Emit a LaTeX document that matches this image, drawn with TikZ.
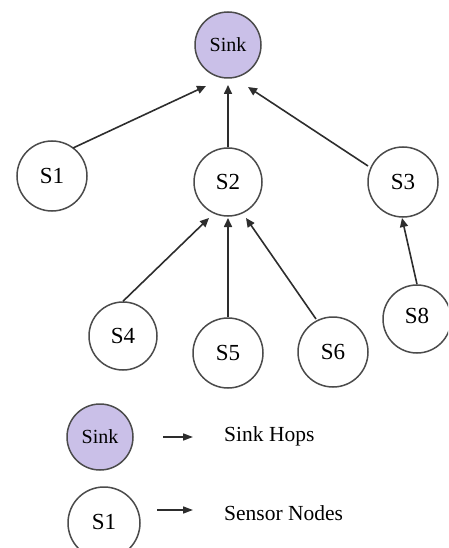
\documentclass[tikz,border=0pt]{standalone}
\usepackage{fontspec}
\setmainfont{Liberation Serif}
\usetikzlibrary{arrows.meta}
\definecolor{sinkfill}{RGB}{202,192,232}
\definecolor{edge}{RGB}{45,45,45}
\definecolor{rim}{RGB}{75,75,75}
\tikzset{
  sensor/.style={circle, draw=rim, line width=1.5pt, fill=white, minimum size=70pt, inner sep=0pt,
    font=\fontsize{23}{25}\selectfont},
  sinknode/.style={circle, draw=rim, line width=1.5pt, fill=sinkfill, minimum size=66pt, inner sep=0pt,
    font=\fontsize{20}{22}\selectfont},
  link/.style={draw=edge, line width=1.6pt, -{Triangle[length=9pt,width=8pt]}},
  legendtext/.style={anchor=west, inner sep=0pt, font=\fontsize{21.5}{24}\selectfont}
}
\begin{document}
\begin{tikzpicture}[x=1pt,y=-1pt]
\useasboundingbox (0,0) rectangle (448,548);
\clip (0,0) rectangle (448,548);
% tree
\node[sinknode] (sink) at (228,45) {Sink};
\node[sensor] (s1) at (52,176) {S1};
\node[sensor, minimum size=68pt] (s2) at (228,182) {S2};
\node[sensor] (s3) at (403,182) {S3};
\node[sensor, minimum size=68pt] (s4) at (123,336) {S4};
\node[sensor] (s5) at (228,353) {S5};
\node[sensor] (s6) at (333,352) {S6};
\node[sensor, minimum size=68pt] (s8) at (417,319) {\raisebox{6pt}{S8}};
% links towards the sink
\draw[link] ([shift={(21,-28)}]s1.center) -- ([shift={(-22,41)}]sink.center);
\draw[link] (s2.north) -- ([shift={(0,40)}]sink.center);
\draw[link] ([shift={(-35,-16)}]s3.center) -- ([shift={(20,42)}]sink.center);
\draw[link] (s4.north) -- ([shift={(-19,36)}]s2.center);
\draw[link] (s5.north) -- ([shift={(0,36)}]s2.center);
\draw[link] ([shift={(-17,-33)}]s6.center) -- ([shift={(18,36)}]s2.center);
\draw[link] (s8.north) -- ([shift={(-1,36)}]s3.center);
% legend
\node[sinknode] (keysink) at (100,437) {Sink};
\node[sensor, minimum size=72pt] (keys1) at (104,523) {\raisebox{3pt}{S1}};
\coordinate (a1) at (163,437);
\coordinate (b1) at (193,437);
\coordinate (a2) at (157,510);
\coordinate (b2) at (193,510);
\draw[link, -{Triangle[length=10pt,width=7pt]}] (a1) -- (b1);
\draw[link, -{Triangle[length=10pt,width=7pt]}] (a2) -- (b2);
\node[legendtext] (t1) at (224,436) {Sink Hops};
\node[legendtext] (t2) at (224,513) {Sensor Nodes};
\end{tikzpicture}
\end{document}
